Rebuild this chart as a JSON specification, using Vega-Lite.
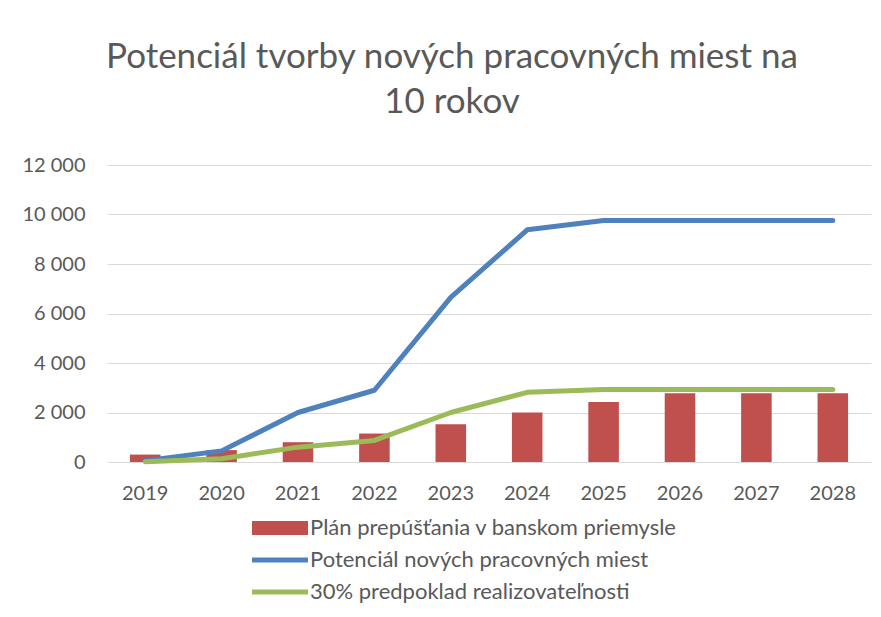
{
  "$schema": "https://vega.github.io/schema/vega-lite/v6.json",
  "width": 764,
  "height": 297,
  "autosize": "none",
  "padding": {"left": 107, "top": 165, "right": 10, "bottom": 155},
  "background": "white",
  "title": {
    "text": ["Potenciál tvorby nových pracovných miest na", "10 rokov"],
    "font": "Lato",
    "fontSize": 35,
    "fontWeight": "normal",
    "color": "#595959",
    "anchor": "middle",
    "dx": -37,
    "offset": 35,
    "lineHeight": 45
  },
  "datasets": {
    "bars": [
      {"year": "2019", "value": 300},
      {"year": "2020", "value": 480},
      {"year": "2021", "value": 800},
      {"year": "2022", "value": 1150},
      {"year": "2023", "value": 1530},
      {"year": "2024", "value": 2000},
      {"year": "2025", "value": 2420},
      {"year": "2026", "value": 2780},
      {"year": "2027", "value": 2780},
      {"year": "2028", "value": 2780}
    ],
    "lines": [
      {"year": "2019", "series": "Potenciál nových pracovných miest", "value": 50},
      {"year": "2020", "series": "Potenciál nových pracovných miest", "value": 450},
      {"year": "2021", "series": "Potenciál nových pracovných miest", "value": 2000},
      {"year": "2022", "series": "Potenciál nových pracovných miest", "value": 2900},
      {"year": "2023", "series": "Potenciál nových pracovných miest", "value": 6650},
      {"year": "2024", "series": "Potenciál nových pracovných miest", "value": 9380},
      {"year": "2025", "series": "Potenciál nových pracovných miest", "value": 9760},
      {"year": "2026", "series": "Potenciál nových pracovných miest", "value": 9760},
      {"year": "2027", "series": "Potenciál nových pracovných miest", "value": 9760},
      {"year": "2028", "series": "Potenciál nových pracovných miest", "value": 9760},
      {"year": "2019", "series": "30% predpoklad realizovateľnosti", "value": 15},
      {"year": "2020", "series": "30% predpoklad realizovateľnosti", "value": 135},
      {"year": "2021", "series": "30% predpoklad realizovateľnosti", "value": 600},
      {"year": "2022", "series": "30% predpoklad realizovateľnosti", "value": 870},
      {"year": "2023", "series": "30% predpoklad realizovateľnosti", "value": 2000},
      {"year": "2024", "series": "30% predpoklad realizovateľnosti", "value": 2815},
      {"year": "2025", "series": "30% predpoklad realizovateľnosti", "value": 2930},
      {"year": "2026", "series": "30% predpoklad realizovateľnosti", "value": 2930},
      {"year": "2027", "series": "30% predpoklad realizovateľnosti", "value": 2930},
      {"year": "2028", "series": "30% predpoklad realizovateľnosti", "value": 2930}
    ]
  },
  "encoding": {
    "x": {
      "field": "year",
      "type": "nominal",
      "scale": {"paddingInner": 0.6, "paddingOuter": 0.3},
      "axis": {
        "title": null,
        "labelAngle": 0,
        "labelFont": "Lato",
        "labelFontSize": 20,
        "labelColor": "#595959",
        "labelPadding": 21,
        "ticks": false,
        "domain": false,
        "grid": false
      }
    },
    "y": {
      "field": "value",
      "type": "quantitative",
      "scale": {"domain": [0, 12000], "nice": false},
      "axis": {
        "title": null,
        "values": [0, 2000, 4000, 6000, 8000, 10000, 12000],
        "labelExpr": "replace(format(datum.value, ',d'), ',', ' ')",
        "labelFont": "Lato",
        "labelFontSize": 20,
        "labelColor": "#595959",
        "labelPadding": 22,
        "ticks": false,
        "domain": false,
        "grid": true,
        "gridColor": "#d9d9d9",
        "gridWidth": 1
      }
    }
  },
  "layer": [
    {
      "data": {"name": "bars"},
      "mark": {"type": "bar", "color": "#c0504d"},
      "encoding": {
        "fill": {
          "datum": "Plán prepúšťania v banskom priemysle",
          "scale": {"range": ["#c0504d"]},
          "legend": {
            "orient": "none",
            "legendX": 162,
            "legendY": 352,
            "title": null,
            "symbolType": "M-4,-1H4V1H-4Z",
            "symbolSize": 196,
            "symbolStrokeWidth": 0,
            "labelFont": "Lato",
            "labelFontSize": 22,
            "labelColor": "#595959",
            "labelOffset": 19,
            "labelLimit": 0
          }
        }
      }
    },
    {
      "data": {"name": "lines"},
      "mark": {"type": "line", "strokeWidth": 5, "strokeCap": "round", "strokeJoin": "round"},
      "encoding": {
        "stroke": {
          "field": "series",
          "type": "nominal",
          "scale": {
            "domain": ["Potenciál nových pracovných miest", "30% predpoklad realizovateľnosti"],
            "range": ["#4f81bd", "#9bbb59"]
          },
          "legend": {
            "orient": "none",
            "legendX": 162,
            "legendY": 384,
            "title": null,
            "symbolType": "M-4,0H4",
            "symbolSize": 196,
            "symbolStrokeWidth": 5,
            "symbolFillColor": "transparent",
            "labelFont": "Lato",
            "labelFontSize": 22,
            "labelColor": "#595959",
            "labelOffset": 19,
            "labelLimit": 0,
            "rowPadding": 10
          }
        }
      }
    }
  ],
  "config": {"view": {"stroke": null}}
}
